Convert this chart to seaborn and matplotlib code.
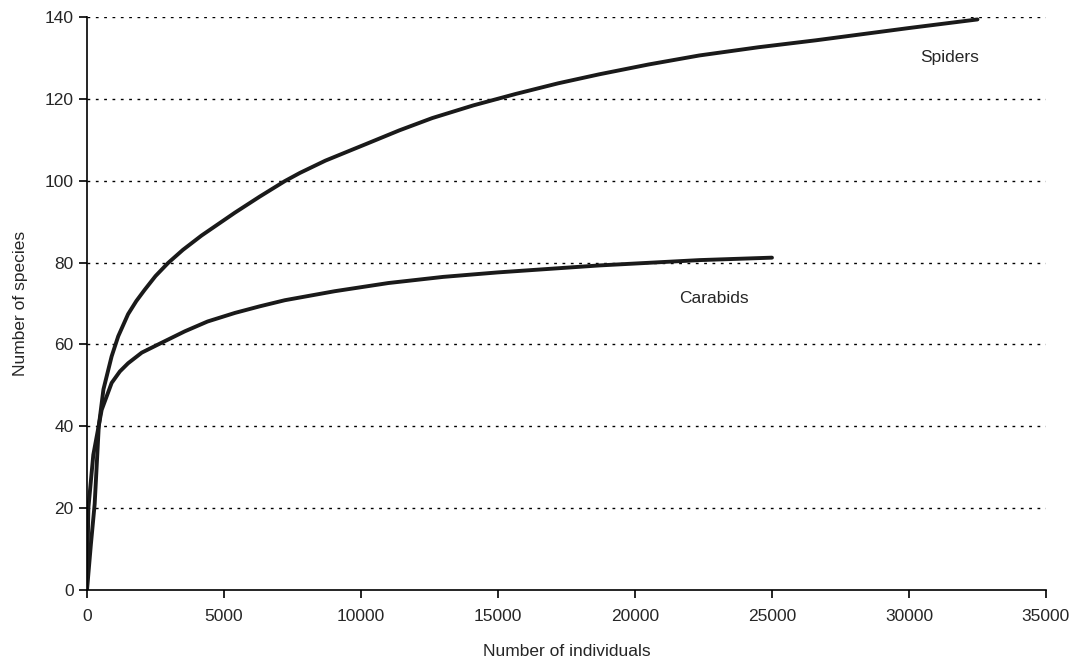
import numpy as np
import pandas as pd
import matplotlib
matplotlib.use("Agg")
import matplotlib.pyplot as plt
import seaborn as sns

# points
spider_x = [0, 140, 280, 430, 600, 718, 900, 1140, 1500, 1800, 2100, 2500, 2960, 3500, 4180,
            5400, 6300, 7220, 7770, 8700, 9650, 10200, 11400, 12600, 14100, 15650, 17200,
            18700, 20500, 22350, 24500, 26600, 30000, 32500]
spider_y = [0, 11, 21, 40, 49, 52.2, 57.1, 62, 67.4, 70.6, 73.3, 76.7, 79.9, 83.1, 86.6,
            92.2, 96.1, 99.9, 101.9, 104.9, 107.5, 109.0, 112.3, 115.3, 118.4, 121.2, 123.8,
            126, 128.4, 130.6, 132.6, 134.3, 137.3, 139.4]
carab_x = [0, 50, 230, 535, 900, 1200, 1500, 2000, 2600, 3570, 4400, 5400, 6300, 7220,
           9040, 11000, 13000, 15000, 18700, 22350, 25000]
carab_y = [0, 20, 33, 44, 50.6, 53.4, 55.4, 58, 60, 63.2, 65.6, 67.7, 69.3, 70.8,
           73, 75, 76.5, 77.6, 79.3, 80.6, 81.2]

sp = pd.DataFrame({"x": spider_x, "y": spider_y})
ca = pd.DataFrame({"x": carab_x, "y": carab_y})

sns.set_style("white")
plt.rcParams['font.family'] = ['Liberation Sans', 'DejaVu Sans']

fig = plt.figure(figsize=(10.82, 6.66), dpi=100)
ax = fig.add_axes([0.0804, 0.1141, 0.8863, 0.8604])

for df in [sp, ca]:
    sns.lineplot(data=df, x="x", y="y", color="#1a1a1a", linewidth=2.8, ax=ax,
                 legend=False, sort=False)

ax.set_xlim(0, 35000)
ax.set_ylim(0, 140)
ax.set_xticks(range(0, 35001, 5000))
ax.set_yticks(range(0, 141, 20))
for yv in range(20, 141, 20):
    ax.axhline(yv, color="black", linestyle=(0, (2, 4)), linewidth=1, zorder=0)

for s in ["top", "right"]:
    ax.spines[s].set_visible(False)
for s in ["left", "bottom"]:
    ax.spines[s].set_color("black")
    ax.spines[s].set_linewidth(1.2)
ax.tick_params(axis="both", direction="out", length=6, width=1.2, color="black",
               labelsize=12.5, bottom=True, left=True)
ax.tick_params(axis="x", pad=8)

ax.set_xlabel("Number of individuals", fontsize=12.5, labelpad=14)
ax.set_ylabel("Number of species", fontsize=12.5, labelpad=12)

ax.text(30400, 130, "Spiders", fontsize=12.5, ha="left", va="center")
ax.text(21600, 71.3, "Carabids", fontsize=12.5, ha="left", va="center")

fig.savefig("out.png", dpi=100)
